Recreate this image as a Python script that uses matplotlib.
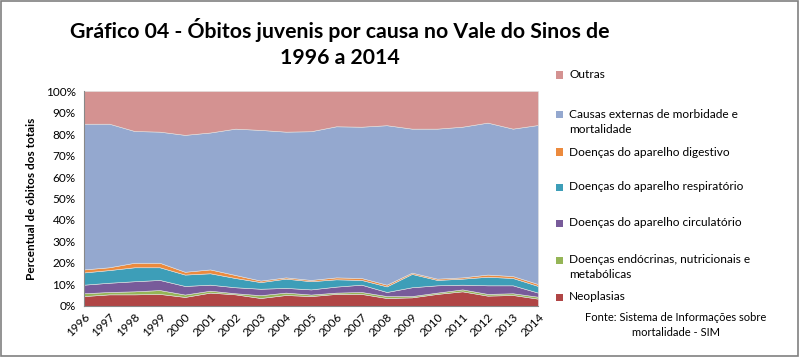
import numpy as np
import matplotlib
matplotlib.use('Agg')
import matplotlib.pyplot as plt
from matplotlib.patches import Rectangle

plt.rcParams['font.family'] = ['Lato', 'DejaVu Sans']

# dados (percentual de óbitos por causa)
anos = [str(a) for a in range(1996, 2015)]
neoplasias = [4.6, 5.4, 5.4, 5.6, 4.2, 6.2, 5.4, 3.7, 5.1, 4.6, 5.6, 5.6, 3.7, 4.0, 5.6, 6.8, 4.8, 5.1, 3.4]
endocrinas = [1.3, 1.1, 1.4, 1.8, 1.1, 0.9, 0.5, 1.3, 1.1, 0.7, 0.6, 0.9, 0.9, 0.6, 0.6, 0.9, 0.8, 0.8, 0.9]
circulatorio = [4.0, 4.3, 4.7, 4.7, 4.0, 2.8, 2.8, 3.0, 2.2, 2.4, 2.8, 3.4, 1.9, 4.1, 3.4, 2.2, 4.0, 3.7, 1.9]
respiratorio = [5.7, 5.9, 6.5, 5.9, 5.3, 5.3, 4.3, 3.1, 4.3, 3.8, 3.4, 2.2, 2.6, 6.2, 2.5, 2.8, 4.0, 3.4, 3.1]
digestivo = [1.4, 1.3, 2.1, 2.1, 1.3, 1.8, 1.4, 0.7, 0.6, 0.6, 0.9, 0.9, 0.8, 0.6, 0.6, 0.6, 1.0, 0.9, 0.9]
externas = [67.8, 66.8, 61.3, 61.0, 63.7, 63.7, 68.1, 70.1, 67.8, 69.2, 70.3, 70.4, 74.2, 67.0, 69.8, 70.1, 70.7, 68.6, 74.0]
outras = [15.2, 15.2, 18.6, 18.9, 20.4, 19.3, 17.5, 18.1, 18.9, 18.7, 16.4, 16.6, 15.9, 17.5, 17.5, 16.6, 14.7, 17.5, 15.8]

series = [neoplasias, endocrinas, circulatorio, respiratorio, digestivo, externas, outras]
nomes = ['Neoplasias',
         'Doenças endócrinas, nutricionais e\nmetabólicas',
         'Doenças do aparelho circulatório',
         'Doenças do aparelho respiratório',
         'Doenças do aparelho digestivo',
         'Causas externas de morbidade e\nmortalidade',
         'Outras']
cores = ['#B04545', '#95B556', '#785B9A', '#3D9EB8', '#EC8A3D', '#94A8CF', '#D49291']

dados = np.array(series, dtype=float)
dados = dados / dados.sum(axis=0) * 100

fig = plt.figure(figsize=(8, 3.57), dpi=100)
ax = fig.add_axes([0.105, 0.143, 0.5675, 0.602])

x = np.arange(len(anos))
ax.stackplot(x, dados, colors=cores, edgecolor='#e0e0e0', linewidth=0.4)

ax.set_xlim(0, len(anos) - 1)
ax.set_ylim(0, 100)
ax.set_yticks(np.arange(0, 101, 10))
ax.set_yticklabels([f'{v}%' for v in range(0, 101, 10)], fontsize=8.5)
ax.set_xticks(x)
ax.set_xticklabels(anos, rotation=45, ha='right', rotation_mode='anchor', fontsize=8.5)
ax.tick_params(length=0, pad=4)
ax.tick_params(axis='y', pad=6)
for s in ['top', 'right']:
    ax.spines[s].set_visible(False)
for s in ['left', 'bottom']:
    ax.spines[s].set_color('#888888')
    ax.spines[s].set_linewidth(0.8)
ax.set_ylabel('Percentual de óbitos dos totais', fontsize=8.5, fontweight='bold', labelpad=6)

fig.text(0.425, 0.915, 'Gráfico 04 - Óbitos juvenis por causa no Vale do Sinos de',
         ha='center', va='center', fontsize=15.3, fontweight='bold')
fig.text(0.425, 0.838, '1996 a 2014', ha='center', va='center', fontsize=15.3, fontweight='bold')

# legenda manual (ordem invertida, como no Excel)
leg_y = [75, 122, 152, 187, 223, 267, 297]
for i, k in enumerate(range(len(nomes) - 1, -1, -1)):
    yp = leg_y[i]
    n_linhas = nomes[k].count('\n') + 1
    y_top = yp - 7 * (n_linhas - 1)
    fig.patches.append(Rectangle((556 / 800, 1 - (y_top + 3.5) / 357), 7 / 800, 7 / 357,
                                 transform=fig.transFigure, facecolor=cores[k], edgecolor='none'))
    fig.text(569 / 800, 1 - yp / 357, nomes[k], ha='left', va='center', fontsize=8.6,
             linespacing=1.45)

fig.text(676 / 800, 1 - 325 / 357, 'Fonte: Sistema de Informações sobre\nmortalidade - SIM',
         ha='center', va='center', fontsize=8, linespacing=1.45)

# moldura externa
fig.patches.append(Rectangle((0.001, 0.002), 0.997, 0.995, transform=fig.transFigure,
                             fill=False, edgecolor='#808080', linewidth=1.2))

fig.savefig('out.png', dpi=100)
